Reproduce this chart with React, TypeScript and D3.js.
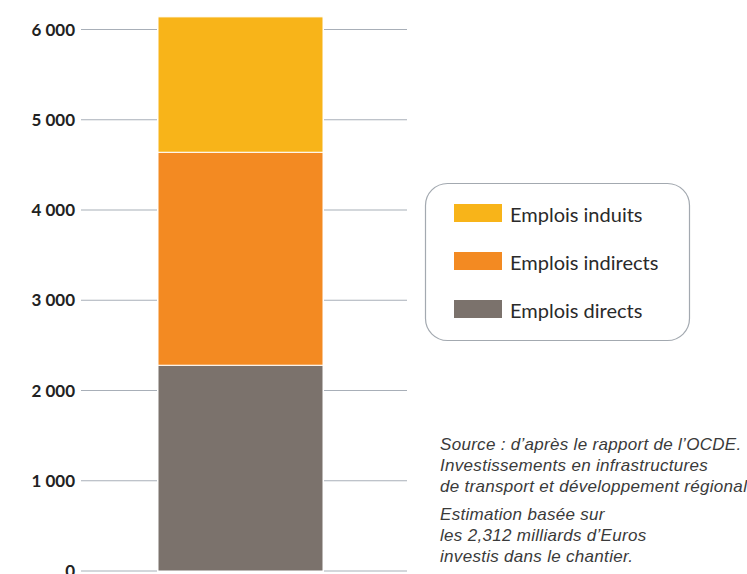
import React from "react";
import * as d3 from "d3";

const categories = ["Total"];
const seriesNames = ["Emplois directs", "Emplois indirects", "Emplois induits"];
const directs = [2280];
const indirects = [2360];
const induits = [1500];
const yTicks = [0, 1000, 2000, 3000, 4000, 5000, 6000];
const sourceLines = [
  "Source : d\u2019après le rapport de l\u2019OCDE.",
  "Investissements en infrastructures",
  "de transport et développement régional",
];
const noteLines = [
  "Estimation basée sur",
  "les 2,312 milliards d\u2019Euros",
  "investis dans le chantier.",
];

const colors = ["#7B726C", "#F38A22", "#F8B419"];
const W = 747;
const H = 574;

export default function App() {
  const y = d3.scaleLinear().domain([0, 6000]).range([571, 29.5]);
  const x = d3.scaleBand().domain(categories).range([158, 323]).padding(0);

  const table = categories.map((c, i) => ({
    cat: c,
    [seriesNames[0]]: directs[i],
    [seriesNames[1]]: indirects[i],
    [seriesNames[2]]: induits[i],
  }));
  const stack = d3.stack<any>().keys(seriesNames)(table);

  const fmt = (v: number) => d3.format(",")(v).replace(/,/g, " ");
  const legendOrder = [2, 1, 0];

  return (
    <svg
      width={W}
      height={H}
      style={{ position: "absolute", left: 0, top: 0, background: "#fff" }}
      fontFamily="Lato, 'Noto Sans', sans-serif"
    >
      {/* grid lines */}
      {yTicks.map((t) => (
        <g key={t}>
          <line x1={81} x2={157} y1={y(t)} y2={y(t)} stroke="#A8AFB8" strokeWidth={1.2} />
          <line x1={324} x2={407} y1={y(t)} y2={y(t)} stroke="#A8AFB8" strokeWidth={1.2} />
          <text
            x={75}
            y={y(t)}
            dy="0.36em"
            textAnchor="end"
            fontSize={17}
            fontWeight="bold"
            fill="#222"
          >
            {fmt(t)}
          </text>
        </g>
      ))}
      {/* bars */}
      {stack.map((s, si) =>
        s.map((d, di) => (
          <rect
            key={si + "-" + di}
            x={x(categories[di])}
            width={x.bandwidth()}
            y={y(d[1])}
            height={y(d[0]) - y(d[1])}
            fill={colors[si]}
            stroke="#fff"
            strokeWidth={1}
          />
        ))
      )}
      {/* legend */}
      <rect x={425.5} y={183.5} width={264} height={157} rx={22} ry={22} fill="#fff" stroke="#A3A9B0" strokeWidth={1.2} />
      {legendOrder.map((si, i) => (
        <g key={si} transform={`translate(454, ${204 + i * 48})`}>
          <rect x={0} y={0} width={48} height={18} fill={colors[si]} />
          <text x={56} y={18} fontSize={20} fill="#2a2a2a">
            {seriesNames[si]}
          </text>
        </g>
      ))}
      {/* source notes */}
      <g fontStyle="italic" fontSize={17} letterSpacing={0.3} fill="#3a3a3a" fontFamily="'Liberation Sans', Arial, sans-serif">
        {sourceLines.map((l, i) => (
          <text key={l} x={440} y={450 + i * 20.8}>
            {l}
          </text>
        ))}
        {noteLines.map((l, i) => (
          <text key={l} x={440} y={520 + i * 20.8}>
            {l}
          </text>
        ))}
      </g>
    </svg>
  );
}
